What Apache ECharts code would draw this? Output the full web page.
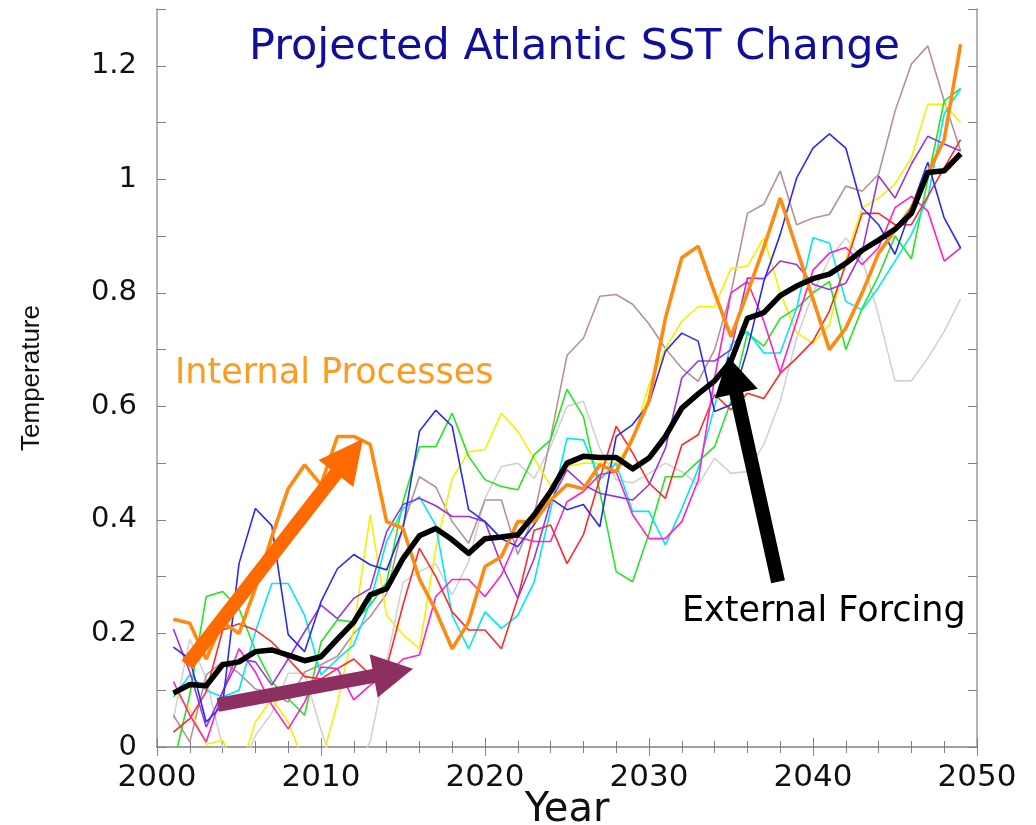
<!DOCTYPE html>
<html>
<head>
<meta charset="utf-8">
<script src="https://cdn.jsdelivr.net/npm/echarts@6/dist/echarts.min.js"></script>
<style>
  html, body { margin: 0; padding: 0; background: #fff; }
  #chart { width: 1036px; height: 825px; }
</style>
</head>
<body>
<div id="chart"></div>
<script>
// Projected Atlantic SST change: ensemble members, their mean, and annotations.
const years = [2001,2002,2003,2004,2005,2006,2007,2008,2009,2010,
               2011,2012,2013,2014,2015,2016,2017,2018,2019,2020,
               2021,2022,2023,2024,2025,2026,2027,2028,2029,2030,
               2031,2032,2033,2034,2035,2036,2037,2038,2039,2040,
               2041,2042,2043,2044,2045,2046,2047,2048,2049];

const memberGray = [0.05,0.19,0.12,0.0,-0.05,0.02,0.06,0.13,0.13,0.03,
                    -0.05,-0.05,0.01,0.15,0.29,0.309,0.323,0.268,0.326,0.438,
                    0.494,0.5,0.473,0.529,0.6,0.609,0.526,0.471,0.465,0.482,
                    0.5,0.485,0.462,0.509,0.482,0.485,0.533,0.609,0.72,0.8,
                    0.86,0.897,0.86,0.76,0.645,0.645,0.685,0.732,0.79];
const memberBrown = [0.056,0.009,0.127,0.15,0.13,0.102,0.095,0.079,0.132,0.145,
                     0.16,0.2,0.23,0.27,0.39,0.476,0.458,0.397,0.359,0.435,
                     0.435,0.339,0.409,0.544,0.69,0.72,0.794,0.797,0.78,0.745,
                     0.702,0.667,0.644,0.7,0.8,0.94,0.956,1.015,0.92,0.932,
                     0.938,0.988,0.979,1.009,1.12,1.203,1.235,1.138,1.05];
const memberYellow = [0.1,0.067,0.005,0.012,-0.05,0.044,0.085,0.044,-0.03,-0.03,
                      0.078,0.208,0.409,0.232,0.198,0.173,0.35,0.473,0.52,0.524,
                      0.588,0.556,0.508,0.46,0.494,0.5,0.5,0.5,0.538,0.638,
                      0.702,0.75,0.776,0.776,0.843,0.847,0.897,0.8,0.73,0.711,
                      0.744,0.86,0.95,0.967,0.992,1.038,1.132,1.132,1.1];
const memberGreen = [-0.03,0.092,0.265,0.274,0.244,0.17,0.115,0.085,0.056,0.185,
                     0.224,0.22,0.25,0.29,0.432,0.529,0.529,0.588,0.512,0.471,
                     0.459,0.453,0.515,0.541,0.63,0.582,0.45,0.309,0.291,0.376,
                     0.476,0.476,0.503,0.529,0.609,0.729,0.706,0.755,0.773,0.8,
                     0.82,0.7,0.773,0.83,0.9,0.86,1.0,1.138,1.16];
const memberCyan = [0.088,0.127,0.1,0.088,0.1,0.203,0.288,0.288,0.232,0.127,
                    0.155,0.18,0.256,0.362,0.42,0.441,0.39,0.232,0.173,0.238,
                    0.209,0.232,0.291,0.418,0.544,0.541,0.471,0.5,0.415,0.415,
                    0.356,0.42,0.49,0.6,0.709,0.732,0.694,0.694,0.773,0.897,
                    0.888,0.785,0.77,0.81,0.856,0.903,0.967,1.115,1.16];
const memberRed = [0.026,0.05,0.097,0.206,0.217,0.206,0.185,0.155,0.124,0.12,
                   0.138,0.155,0.127,0.14,0.25,0.35,0.3,0.238,0.206,0.206,
                   0.173,0.262,0.382,0.391,0.323,0.374,0.473,0.565,0.518,0.465,
                   0.438,0.532,0.55,0.621,0.594,0.623,0.614,0.658,0.685,0.715,
                   0.768,0.85,0.94,0.94,0.92,0.92,0.97,1.02,1.07];
const memberMagenta = [0.115,0.056,0.009,0.097,0.173,0.132,0.074,0.032,0.079,0.141,
                       0.138,0.083,0.109,0.127,0.155,0.162,0.265,0.295,0.295,0.265,
                       0.303,0.37,0.362,0.362,0.432,0.45,0.48,0.485,0.409,0.367,
                       0.367,0.397,0.47,0.65,0.8,0.82,0.75,0.66,0.75,0.84,
                       0.87,0.88,0.85,0.88,0.95,0.97,0.944,0.856,0.879];
const memberPurple = [0.208,0.132,0.035,0.097,0.155,0.15,0.109,0.155,0.203,0.25,
                      0.226,0.262,0.279,0.379,0.427,0.438,0.425,0.406,0.406,0.397,
                      0.321,0.262,0.332,0.432,0.488,0.462,0.447,0.441,0.435,0.462,
                      0.526,0.65,0.68,0.68,0.7,0.826,0.825,0.856,0.85,0.815,
                      0.806,0.817,0.873,1.006,0.967,1.027,1.076,1.062,1.05];
const memberBlue = [0.176,0.155,0.044,0.074,0.323,0.42,0.39,0.198,0.168,0.256,
                    0.314,0.339,0.321,0.312,0.385,0.556,0.593,0.565,0.418,0.397,
                    0.367,0.353,0.392,0.438,0.418,0.427,0.388,0.547,0.568,0.605,
                    0.697,0.729,0.715,0.591,0.603,0.7,0.82,0.903,1.002,1.055,
                    1.08,1.055,0.95,0.92,0.868,0.95,1.03,0.932,0.879];
const memberOrange = [0.225,0.218,0.155,0.22,0.2,0.28,0.37,0.455,0.497,0.462,
                      0.547,0.547,0.533,0.397,0.385,0.296,0.24,0.173,0.22,0.318,
                      0.335,0.397,0.397,0.435,0.462,0.455,0.497,0.485,0.544,0.61,
                      0.755,0.862,0.882,0.8,0.723,0.8,0.88,0.967,0.878,0.789,
                      0.7,0.738,0.8,0.87,0.91,0.95,1.01,1.07,1.238];
const ensembleMean = [0.095,0.11,0.108,0.145,0.15,0.168,0.171,0.162,0.152,0.159,
                      0.19,0.22,0.268,0.279,0.332,0.372,0.385,0.365,0.341,0.367,
                      0.37,0.374,0.409,0.45,0.5,0.512,0.51,0.51,0.49,0.509,
                      0.547,0.597,0.622,0.645,0.68,0.755,0.765,0.795,0.812,0.825,
                      0.833,0.852,0.875,0.893,0.912,0.94,1.012,1.015,1.045];

// Arrow annotations in data coordinates: [tail, tip]
const arrowInternal = [[2001.83, 0.145], [2012.56, 0.543]];
const arrowSlow     = [[2003.72, 0.074], [2015.61, 0.138]];
const arrowExternal = [[2037.87, 0.291], [2034.82, 0.688]];

const titleText = 'Projected Atlantic SST Change';
const internalText = 'Internal Processes';
const externalText = 'External Forcing';

const thinMembers = [
  { name: 'm1', data: memberGray,    color: '#d2d2d2' },
  { name: 'm2', data: memberBrown,   color: '#b39393' },
  { name: 'm3', data: memberYellow,  color: '#f2f200' },
  { name: 'm4', data: memberGreen,   color: '#22e622' },
  { name: 'm5', data: memberCyan,    color: '#00e8f4' },
  { name: 'm6', data: memberRed,     color: '#ff2a2a' },
  { name: 'm7', data: memberMagenta, color: '#ff1fcc' },
  { name: 'm8', data: memberPurple,  color: '#9a35dd' },
  { name: 'm9', data: memberBlue,    color: '#2a2af2' }
];

const pair = arr => years.map((y, i) => [y, arr[i]]);

const series = thinMembers.map(m => ({
  name: m.name, type: 'line', data: pair(m.data), showSymbol: false,
  symbol: 'none', clip: true, silent: true,
  lineStyle: { color: m.color, width: 1.6 }
}));
series.push({
  name: 'm10', type: 'line', data: pair(memberOrange), symbol: 'none', clip: true,
  lineStyle: { color: '#ff8a12', width: 3.6 }, z: 3
});
series.push({
  name: 'mean', type: 'line', data: pair(ensembleMean), symbol: 'none', clip: true,
  lineStyle: { color: '#000000', width: 5.5, join: 'round' }, z: 4
});

const frameColor = '#9a9a9a';
const tickColor = '#808080';
const labelFont = 'DejaVu Sans';

const chart = echarts.init(document.getElementById('chart'), null, { renderer: 'canvas' });
chart.setOption({
  animation: false,
  backgroundColor: '#ffffff',
  grid: { left: 157, right: 59, top: 9, bottom: 78, show: false, containLabel: false, outerBoundsMode: 'none' },
  xAxis: [
    {
      type: 'value', min: 2000, max: 2050, interval: 10, position: 'bottom',
      axisLine: { show: true, lineStyle: { color: frameColor, width: 1.5 } },
      axisTick: { show: true, inside: true, length: 9, lineStyle: { color: tickColor, width: 1 } },
      minorTick: { show: true, splitNumber: 5, length: 6, lineStyle: { color: tickColor, width: 1 } },
      splitLine: { show: false },
      axisLabel: { fontFamily: labelFont, fontSize: 31, color: '#111', margin: 15, formatter: v => String(v) },
      name: 'Year', nameLocation: 'middle', nameGap: 44, nameMoveOverlap: false,
      nameTextStyle: { fontFamily: labelFont, fontSize: 40, color: '#111' }
    },
    {
      type: 'value', min: 2000, max: 2050, interval: 10, position: 'top',
      axisLine: { show: true, lineStyle: { color: frameColor, width: 1.5 } },
      axisTick: { show: true, inside: true, length: 9, lineStyle: { color: tickColor, width: 1 } },
      minorTick: { show: true, splitNumber: 5, length: 6, lineStyle: { color: tickColor, width: 1 } },
      splitLine: { show: false }, axisLabel: { show: false }
    }
  ],
  yAxis: [
    {
      type: 'value', min: 0, max: 1.3, interval: 0.2, position: 'left',
      axisLine: { show: true, lineStyle: { color: frameColor, width: 1.5 } },
      axisTick: { show: true, inside: true, length: 9, lineStyle: { color: tickColor, width: 1 } },
      minorTick: { show: true, splitNumber: 2, length: 9, lineStyle: { color: tickColor, width: 1 } },
      splitLine: { show: false },
      axisLabel: {
        fontFamily: labelFont, fontSize: 29, color: '#111', margin: 20,
        formatter: v => {
          const r = Math.round(v * 10) / 10;
          return Math.abs(r * 5 - Math.round(r * 5)) < 1e-6 ? String(r) : '';
        }
      },
      name: 'Temperature', nameLocation: 'middle', nameRotate: 90, nameGap: 112, nameMoveOverlap: false,
      nameTextStyle: { fontFamily: 'Liberation Sans', fontSize: 26, color: '#111' }
    },
    {
      type: 'value', min: 0, max: 1.3, interval: 0.2, position: 'right',
      axisLine: { show: true, lineStyle: { color: frameColor, width: 1.5 } },
      axisTick: { show: true, inside: true, length: 9, lineStyle: { color: tickColor, width: 1 } },
      minorTick: { show: true, splitNumber: 2, length: 9, lineStyle: { color: tickColor, width: 1 } },
      splitLine: { show: false }, axisLabel: { show: false }
    }
  ],
  series: series
});

// Build filled arrow polygons in pixel space from data-space endpoints.
function arrowShape(pair, shaftHalf, headLen, headHalf) {
  const p0 = chart.convertToPixel({ xAxisIndex: 0, yAxisIndex: 0 }, pair[0]);
  const p1 = chart.convertToPixel({ xAxisIndex: 0, yAxisIndex: 0 }, pair[1]);
  const dx = p1[0] - p0[0], dy = p1[1] - p0[1];
  const len = Math.sqrt(dx * dx + dy * dy);
  const ux = dx / len, uy = dy / len;
  const nx = -uy, ny = ux;
  const bx = p1[0] - ux * headLen, by = p1[1] - uy * headLen;
  return [
    [p0[0] + nx * shaftHalf, p0[1] + ny * shaftHalf],
    [bx + nx * shaftHalf, by + ny * shaftHalf],
    [bx + nx * headHalf, by + ny * headHalf],
    [p1[0], p1[1]],
    [bx - nx * headHalf, by - ny * headHalf],
    [bx - nx * shaftHalf, by - ny * shaftHalf],
    [p0[0] - nx * shaftHalf, p0[1] - ny * shaftHalf]
  ];
}

chart.setOption({
  graphic: [
    {
      type: 'polygon', z: 100,
      shape: { points: arrowShape(arrowInternal, 7, 44, 22) },
      style: { fill: '#ff6a00' }
    },
    {
      type: 'polygon', z: 100,
      shape: { points: arrowShape(arrowSlow, 7, 40, 22) },
      style: { fill: '#8c3062' }
    },
    {
      type: 'polygon', z: 100,
      shape: { points: arrowShape(arrowExternal, 7, 38, 22) },
      style: { fill: '#000000' }
    },
    {
      type: 'text', z: 100, left: 249, top: 26,
      style: { text: titleText, font: '43px "DejaVu Sans"', fill: '#0f0f9c' }
    },
    {
      type: 'text', z: 100, left: 175, top: 356,
      style: { text: internalText, font: '35px "DejaVu Sans"', fill: '#ff9a1e' }
    },
    {
      type: 'text', z: 100, left: 682, top: 594,
      style: { text: externalText, font: '35px "DejaVu Sans"', fill: '#000000' }
    }
  ]
});
</script>
</body>
</html>
